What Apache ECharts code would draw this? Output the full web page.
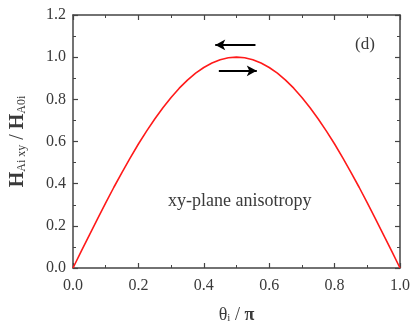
<!DOCTYPE html>
<html>
<head>
<meta charset="utf-8">
<script src="https://cdn.jsdelivr.net/npm/echarts@6/dist/echarts.min.js"></script>
<style>
  html, body { margin: 0; padding: 0; background: #fff; }
  #main { width: 415px; height: 333px; }
</style>
</head>
<body>
<div id="main"></div>
<script>
// theta_i / pi and the normalised field
var thetaVals = [0, 0.025, 0.05, 0.075, 0.1, 0.125, 0.15, 0.175, 0.2, 0.225, 0.25,
    0.275, 0.3, 0.325, 0.35, 0.375, 0.4, 0.425, 0.45, 0.475, 0.5,
    0.525, 0.55, 0.575, 0.6, 0.625, 0.65, 0.675, 0.7, 0.725, 0.75,
    0.775, 0.8, 0.825, 0.85, 0.875, 0.9, 0.925, 0.95, 0.975, 1.0];
var hVals = [0, 0.079, 0.156, 0.233, 0.309, 0.383, 0.454, 0.522, 0.588, 0.649, 0.707,
    0.760, 0.809, 0.853, 0.891, 0.924, 0.951, 0.972, 0.988, 0.997, 1.0,
    0.997, 0.988, 0.972, 0.951, 0.924, 0.891, 0.853, 0.809, 0.760, 0.707,
    0.649, 0.588, 0.522, 0.454, 0.383, 0.309, 0.233, 0.156, 0.079, 0];
// arrows (x0, x1, y) in data units
var arrowLeft = [0.558, 0.435, 1.058];
var arrowRight = [0.446, 0.562, 0.935];

var serif = '"Liberation Serif", "DejaVu Serif", serif';
var axisCol = '#444';
var textCol = '#3a3a3a';

var curve = [];
for (var i = 0; i < thetaVals.length; i++) {
    curve.push([thetaVals[i], hVals[i]]);
}

var myChart = echarts.init(document.getElementById('main'));

function baseAxis(extra) {
    var ax = {
        type: 'value',
        axisLine: { show: true, onZero: false, lineStyle: { color: axisCol, width: 1.5 } },
        axisTick: { show: true, inside: true, length: 5, lineStyle: { color: axisCol, width: 1.2 } },
        minorTick: { show: true, splitNumber: 2, length: 3, lineStyle: { color: axisCol, width: 1 } },
        splitLine: { show: false },
        axisLabel: { show: true, fontFamily: serif, fontSize: 16, color: textCol }
    };
    for (var k in extra) ax[k] = extra[k];
    return ax;
}

var option = {
    animation: false,
    backgroundColor: '#fff',
    grid: { left: 71, right: 15, top: 15, bottom: 65 },
    xAxis: [
        baseAxis({
            min: 0, max: 1, interval: 0.2, position: 'bottom',
            axisLabel: { fontFamily: serif, fontSize: 16, color: textCol, margin: 10,
                formatter: function (v) { return v.toFixed(1); } },
            name: '{n|θ}{s|i}{n| / }{b|π}',
            nameLocation: 'middle', nameGap: 34,
            nameTextStyle: {
                rich: {
                    b: { fontFamily: serif, fontSize: 18, fontWeight: 'bold', color: textCol, verticalAlign: 'bottom', lineHeight: 22 },
                    s: { fontFamily: serif, fontSize: 11, color: textCol, verticalAlign: 'bottom', lineHeight: 12 },
                    n: { fontFamily: serif, fontSize: 18, color: textCol, verticalAlign: 'bottom', lineHeight: 22 }
                }
            }
        }),
        baseAxis({
            min: 0, max: 1, interval: 0.2, position: 'top',
            axisLabel: { show: false }
        })
    ],
    yAxis: [
        baseAxis({
            min: 0, max: 1.2, interval: 0.2, position: 'left',
            axisLabel: { fontFamily: serif, fontSize: 16, color: textCol, margin: 7,
                formatter: function (v) { return v.toFixed(1); } },
            name: '{b|H}{s|Ai xy}{n| / }{b|H}{s|A0i}',
            nameLocation: 'middle', nameGap: 45, nameRotate: 90,
            nameTextStyle: {
                rich: {
                    b: { fontFamily: serif, fontSize: 20, fontWeight: 'bold', color: textCol, verticalAlign: 'bottom', lineHeight: 24 },
                    s: { fontFamily: serif, fontSize: 12, color: textCol, verticalAlign: 'bottom', lineHeight: 16 },
                    n: { fontFamily: serif, fontSize: 20, color: textCol, verticalAlign: 'bottom', lineHeight: 24 }
                }
            }
        }),
        baseAxis({
            min: 0, max: 1.2, interval: 0.2, position: 'right',
            axisLabel: { show: false }
        })
    ],
    series: [
        {
            type: 'line',
            data: curve,
            showSymbol: false,
            lineStyle: { color: '#ff1a1a', width: 1.6 },
            markLine: {
                silent: true,
                symbol: ['none', 'arrow'],
                symbolSize: [8, 10],
                label: { show: false },
                lineStyle: { color: '#000', width: 2, type: 'solid' },
                data: [
                    [{ coord: [arrowLeft[0], arrowLeft[2]] }, { coord: [arrowLeft[1], arrowLeft[2]] }],
                    [{ coord: [arrowRight[0], arrowRight[2]] }, { coord: [arrowRight[1], arrowRight[2]] }]
                ]
            }
        }
    ],
    graphic: [
        {
            type: 'text', left: 355, top: 36,
            style: { text: '(d)', fontFamily: serif, fontSize: 17, fill: textCol }
        },
        {
            type: 'text', left: 168, top: 192,
            style: { text: 'xy-plane anisotropy', fontFamily: serif, fontSize: 18, fill: textCol }
        }
    ]
};

myChart.setOption(option);
</script>
</body>
</html>
